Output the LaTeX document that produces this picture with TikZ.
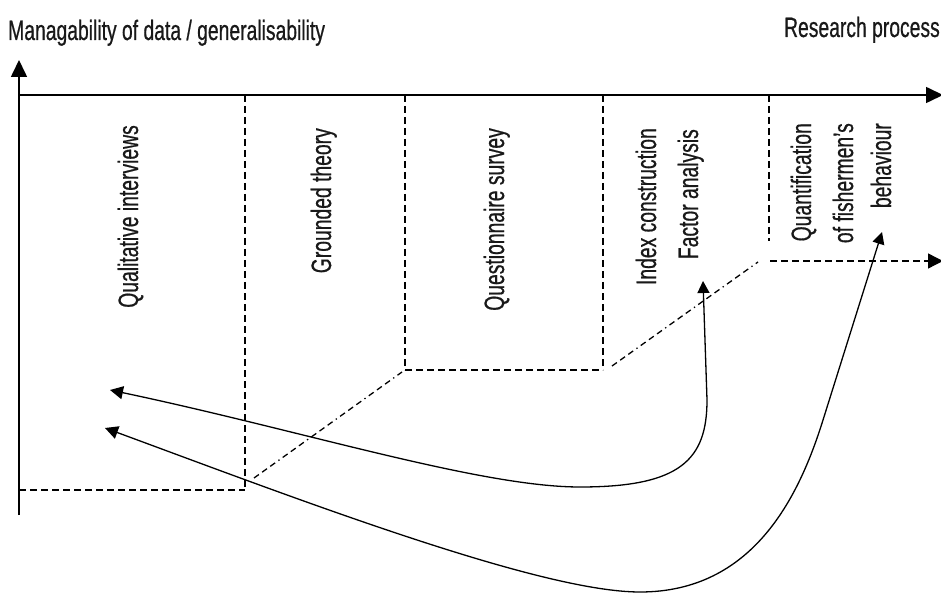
\documentclass[tikz,border=0pt]{standalone}
\usepackage{fontspec}
\setmainfont[FakeStretch=0.69,FakeBold=0.6]{Liberation Sans}
\usetikzlibrary{arrows.meta}
\begin{document}
\begin{tikzpicture}[x=1pt,y=-1pt,
  axisline/.style={line width=1.6pt,draw=black},
  dashline/.style={line width=1.3pt,dash pattern=on 7pt off 4pt},
  dashdotline/.style={line width=1.3pt,dash pattern=on 6pt off 4pt on 6pt off 4pt on 6pt off 4pt on 1.3pt off 4pt},
  curvearrow/.style={line width=1.3pt,{Triangle[width=13pt,length=13pt]}-{Triangle[width=12pt,length=12pt]}},
  bigtip/.style={-{Triangle[width=16pt,length=17pt]}},
  lbl/.style={font=\fontsize{28}{30}\selectfont,inner sep=0pt,text=black!90},
  vlbl/.style={lbl,rotate=90,anchor=base east}]
\useasboundingbox (0,0) rectangle (941,593);
% axes
\coordinate (O) at (19,95);
\coordinate (ytop) at (19,60);
\coordinate (ybot) at (19,515);
\coordinate (xend) at (943,95);
\draw[axisline,bigtip] (ybot) -- (ytop);
\draw[axisline,bigtip] (O) -- (xend);
% axis titles
\node[lbl,anchor=base west] (ytitle) at (8,40) {Managability of data / generalisability};
\node[lbl,anchor=base east] (xtitle) at (940,37) {Research process};
% column boundaries
\coordinate (a1) at (245,95);  \coordinate (a2) at (245,490);
\coordinate (b1) at (405,95);  \coordinate (b2) at (405,370);
\coordinate (c1) at (603,95);  \coordinate (c2) at (603,370);
\coordinate (d1) at (769,95);  \coordinate (d2) at (769,241);
\coordinate (l1) at (19,490);
\coordinate (e1) at (770,261); \coordinate (e2) at (943,261);
\draw[dashline] (a1) -- (a2);
\draw[dashline] (b1) -- (b2);
\draw[dashline] (c1) -- (c2);
\draw[dashline] (d1) -- (d2);
\draw[dashline] (l1) -- (a2);
\draw[dashline] (b2) -- (c2);
\draw[dashline,-{Triangle[width=15pt,length=15pt]}] (e1) -- (e2);
% diagonal steps
\coordinate (s1) at (254,478); \coordinate (s2) at (402,372);
\coordinate (s3) at (612,366); \coordinate (s4) at (758,262);
\draw[dashdotline] (s1) -- (s2);
\draw[dashdotline] (s3) -- (s4);
% column labels
\node[vlbl] (qi) at (138,125) {Qualitative interviews};
\node[vlbl] (gt) at (331,128) {Grounded theory};
\node[vlbl] (qs) at (504,128) {Questionnaire survey};
\node[vlbl] (ic) at (656,128) {Index construction};
\node[vlbl] (fa) at (698,129) {Factor analysis};
\node[vlbl] (qf) at (811,123) {Quantification};
\node[vlbl] (of) at (853,123) {of fishermen’s};
\node[vlbl] (bh) at (891,123) {behaviour};
% feedback arrows
\coordinate (L1) at (110,390);
\coordinate (R1) at (703,281);
\coordinate (L2) at (105,428);
\coordinate (R2) at (882,232);
\draw[curvearrow] (L1) .. controls (300,430) and (480,487) .. (580,487)
  .. controls (680,487) and (707,460) .. (707,400) -- (R1);
\draw[curvearrow] (L2) .. controls (300,500) and (540,592) .. (640,592)
  .. controls (753,592) and (799,497) .. (823,420) -- (R2);
\end{tikzpicture}
\end{document}
